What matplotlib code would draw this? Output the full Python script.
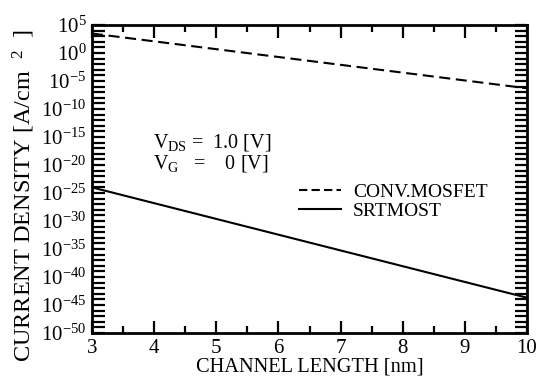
import numpy as np
import matplotlib
matplotlib.use("Agg")
import matplotlib.pyplot as plt
from matplotlib.lines import Line2D
from matplotlib.ticker import FixedLocator, LogFormatterSciNotation

plt.rcParams["font.family"] = ["Liberation Serif", "DejaVu Serif"]
plt.rcParams["mathtext.fontset"] = "custom"
plt.rcParams["mathtext.rm"] = "Liberation Serif"
plt.rcParams["mathtext.it"] = "Liberation Serif:italic"
plt.rcParams["mathtext.default"] = "regular"
plt.rcParams["axes.unicode_minus"] = False

# channel length [nm] and current density [A/cm^2]
length = [3, 10]
conv_mosfet = [3e3, 5e-7]
srtmost = [1e-24, 2e-44]
labels = ["CONV.MOSFET", "SRTMOST"]

xticks = [3, 4, 5, 6, 7, 8, 9, 10]
yticks = [10.0 ** e for e in range(-50, 6, 5)]

fig = plt.figure(figsize=(5.39, 3.83), dpi=100)
ax = fig.add_axes([92 / 539, 50 / 383, 435 / 539, 308 / 383])

ax.plot(length, conv_mosfet, color="black", lw=1.5, ls=(0, (5.3, 2.7)))
ax.plot(length, srtmost, color="black", lw=1.5)

ax.set_yscale("log")
ax.set_xlim(3, 10)
ax.set_ylim(1e-50, 1e5)

ax.xaxis.set_major_locator(FixedLocator(xticks))
ax.xaxis.set_minor_locator(FixedLocator(np.arange(3.5, 10, 1.0)))
ax.yaxis.set_major_locator(FixedLocator(yticks))
ax.yaxis.set_minor_locator(FixedLocator([10.0 ** e for e in range(-50, 6)]))
ax.yaxis.set_major_formatter(LogFormatterSciNotation())
ax.yaxis.set_minor_formatter(plt.NullFormatter())

ax.tick_params(which="both", direction="in", top=True, right=True,
               labelsize=15, width=1.6, pad=4)
ax.tick_params(axis="x", which="major", length=9)
ax.tick_params(axis="x", which="minor", length=5)
ax.tick_params(axis="y", which="both", length=9)
for sp in ax.spines.values():
    sp.set_linewidth(2)

ax.set_xlabel("CHANNEL LENGTH [nm]", fontsize=14.7, labelpad=0)
ax.set_ylabel("CURRENT DENSITY [A/cm  $^{2}$  ]", fontsize=17.5)
ax.yaxis.set_label_coords(-0.126, 0.445)

ax.text(0.14, 0.602, "V$_{DS}$ =  1.0 [V]", transform=ax.transAxes, fontsize=14.5)
ax.text(0.14, 0.533, "V$_{G}$   =    0 [V]", transform=ax.transAxes, fontsize=14.5)

handles = [Line2D([], [], color="black", lw=1.5, ls=(0, (4, 2))),
           Line2D([], [], color="black", lw=1.5)]
ax.legend(handles, labels, loc="upper left", bbox_to_anchor=(0.475, 0.487),
          frameon=False, fontsize=14, handlelength=2.2, handletextpad=0.6,
          labelspacing=0.1, borderpad=0, borderaxespad=0)

fig.savefig("out.png", dpi=100)
